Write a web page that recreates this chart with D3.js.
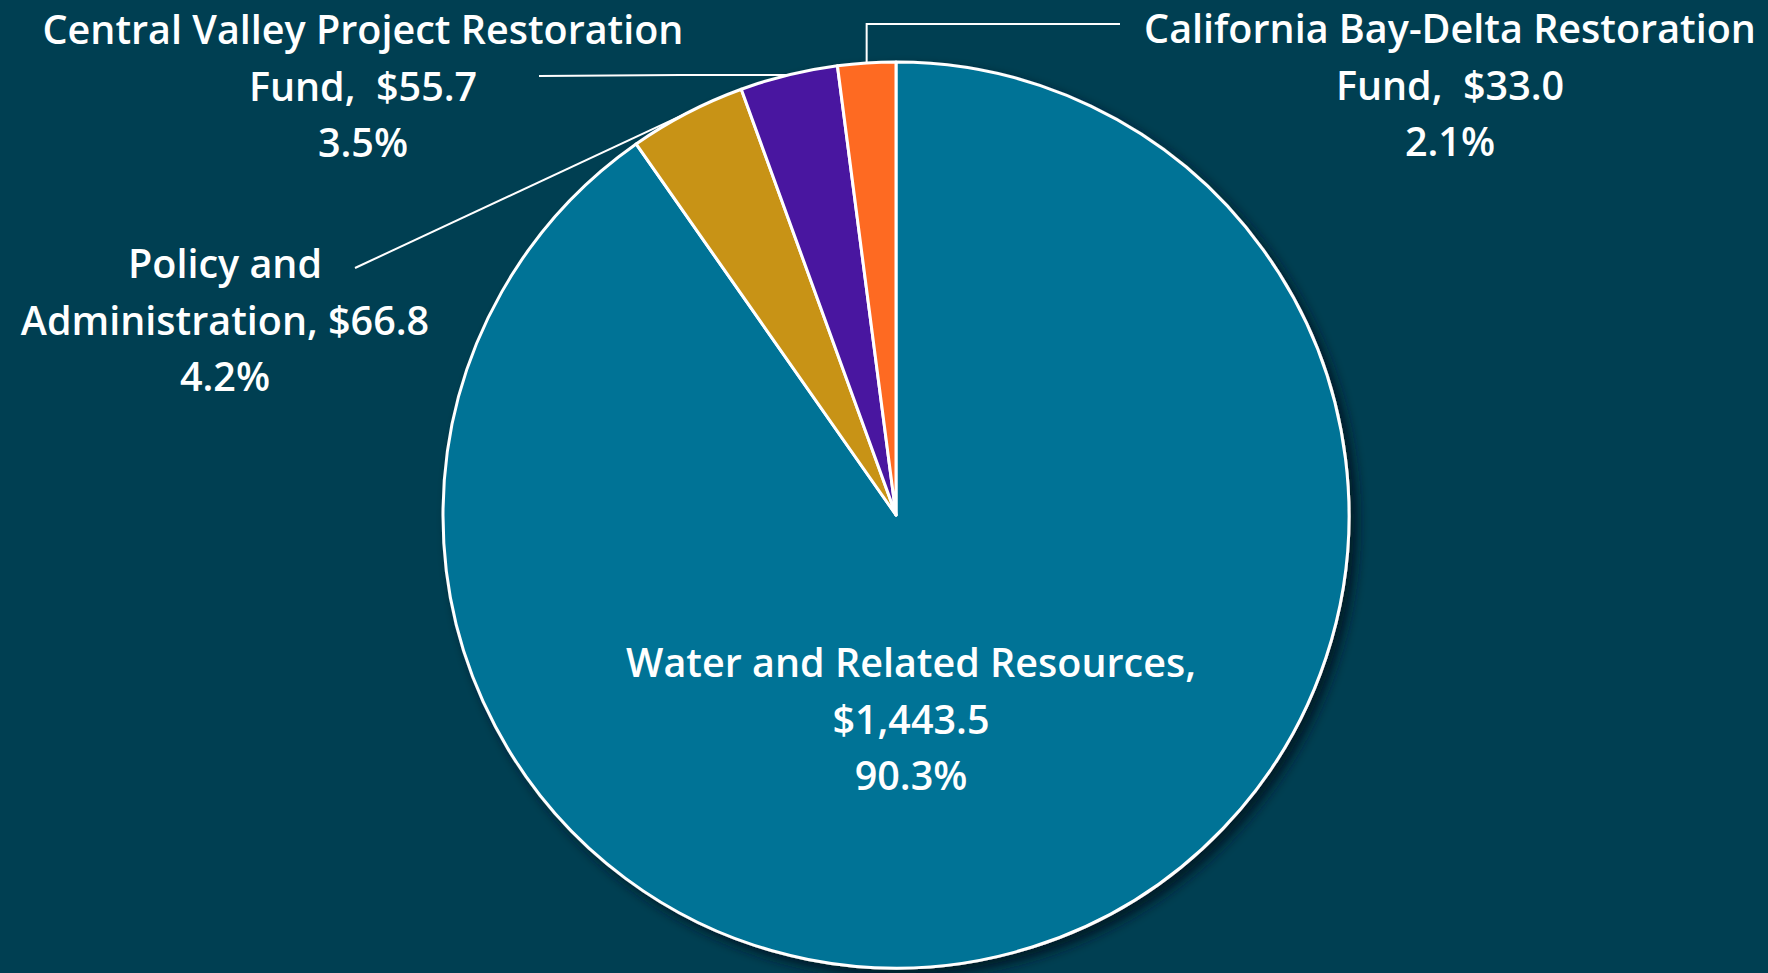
<!DOCTYPE html>
<html>
<head>
<meta charset="utf-8">
<script src="https://cdn.jsdelivr.net/npm/d3@7"></script>
<style>
  html, body { margin: 0; padding: 0; background: #003f52; }
  svg { display: block; }
  .lbl { font-family: "Open Sans", "Noto Sans", sans-serif; font-weight: 600; fill: #ffffff; white-space: pre; }
</style>
</head>
<body>
<svg id="chart"></svg>
<script>
// chart data
const categories = [
    'Water and Related Resources',
    'Policy and Administration',
    'Central Valley Project Restoration Fund',
    'California Bay-Delta Restoration Fund'
];
const values = [1443.5, 66.8, 55.7, 33.0];
const percents = ['90.3%', '4.2%', '3.5%', '2.1%'];
const labelLines = [
    ['Water and Related Resources,', '$1,443.5', '90.3%'],
    ['Policy and', 'Administration, $66.8', '4.2%'],
    ['Central Valley Project Restoration', 'Fund,  $55.7', '3.5%'],
    ['California Bay-Delta Restoration', 'Fund,  $33.0', '2.1%']
];
const colors = ['#017396', '#c89319', '#4a14a0', '#fe6a22'];

function drawChart() {
    const width = 1768;
    const height = 973;
    const cx = 896, cy = 515, r = 453;

    const svg = d3.select('#chart')
        .attr('width', width)
        .attr('height', height);

    svg.append('rect')
        .attr('width', width)
        .attr('height', height)
        .attr('fill', '#003f52');

    // drop shadow for the pie
    const defs = svg.append('defs');
    const filter = defs.append('filter')
        .attr('id', 'shadow')
        .attr('x', '-10%').attr('y', '-10%')
        .attr('width', '125%').attr('height', '125%');
    filter.append('feDropShadow')
        .attr('dx', 7).attr('dy', 7)
        .attr('stdDeviation', 6)
        .attr('flood-color', '#001820')
        .attr('flood-opacity', 0.9);

    const data = categories.map((c, i) => ({ name: c, value: values[i], pct: percents[i], lines: labelLines[i], color: colors[i] }));

    const pie = d3.pie().sort(null).value(d => d.value);
    const arc = d3.arc().innerRadius(0).outerRadius(r);
    const arcs = pie(data);

    const g = svg.append('g').attr('transform', `translate(${cx},${cy})`);

    g.append('g')
        .attr('filter', 'url(#shadow)')
        .selectAll('path')
        .data(arcs)
        .enter().append('path')
        .attr('d', arc)
        .attr('fill', d => d.data.color)
        .attr('stroke', '#ffffff')
        .attr('stroke-width', 3)
        .attr('stroke-linejoin', 'round');

    // edge point of each slice (mid angle)
    const edge = d => {
        const a = (d.startAngle + d.endAngle) / 2;
        return [cx + r * Math.sin(a), cy - r * Math.cos(a)];
    };

    // label placement (x center, first line y)
    const labelPos = [
        { x: 911, y: 677 },
        { x: 225, y: 278 },
        { x: 363, y: 44 },
        { x: 1450, y: 43 }
    ];
    const lineGap = 56.5;

    // leader lines
    const leaders = [
        null,
        d => [[355, 268], edge(d)],
        d => [[539, 76], [680, 75], edge(d)],
        d => [[1120, 24], [edge(d)[0], 24], edge(d)]
    ];

    svg.append('g')
        .selectAll('path')
        .data(arcs.filter((d, i) => leaders[i]))
        .enter().append('path')
        .attr('d', d => d3.line()(leaders[d.index](d)))
        .attr('fill', 'none')
        .attr('stroke', '#ffffff')
        .attr('stroke-width', 2);

    const labels = svg.append('g')
        .selectAll('text')
        .data(arcs)
        .enter().append('text')
        .attr('class', 'lbl')
        .attr('font-size', 39.5)
        .attr('text-anchor', 'middle')
        .attr('x', d => labelPos[d.index].x)
        .attr('y', d => labelPos[d.index].y);

    labels.selectAll('tspan')
        .data(d => d.data.lines.map(t => ({ t, x: labelPos[d.index].x })))
        .enter().append('tspan')
        .attr('x', d => d.x)
        .attr('dy', (d, i) => i === 0 ? 0 : lineGap)
        .text(d => d.t);
}

drawChart();
</script>
</body>
</html>
